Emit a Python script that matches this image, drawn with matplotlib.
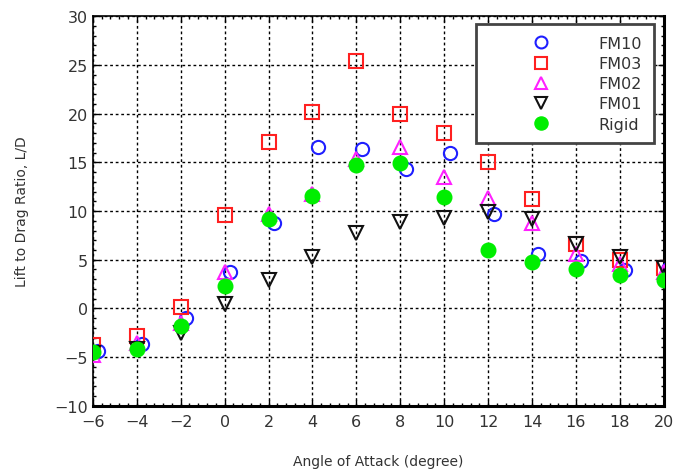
import numpy as np
import matplotlib
matplotlib.use('Agg')
import matplotlib.pyplot as plt
from matplotlib.ticker import MultipleLocator

# angle of attack (degree)
aoa = [-6, -4, -2, 0, 2, 4, 6, 8, 10, 12, 14, 16, 18, 20]
# FM10 points sit slightly to the right of the nominal angle
aoa_fm10 = [-5.75, -3.75, -1.75, 0.25, 2.25, 4.25, 6.25, 8.25, 10.25, 12.25, 14.25, 16.25, 18.25, 20.2]

ld_fm10 = [-4.4, -3.6, -1.0, 3.7, 8.8, 16.6, 16.4, 14.3, 16.0, 9.7, 5.6, 4.9, 3.9, 4.0]
ld_fm03 = [-3.7, -2.8, 0.2, 9.6, 17.1, 20.2, 25.4, 20.0, 18.0, 15.0, 11.2, 6.6, 5.0, 4.2]
ld_fm02 = [-4.8, -3.5, -1.5, 3.7, 9.7, 11.7, 15.3, 16.6, 13.5, 11.3, 8.8, 5.6, 4.6, 3.7]
ld_fm01 = [-4.6, -4.2, -2.5, 0.5, 2.9, 5.3, 7.7, 8.9, 9.3, 9.9, 9.2, 6.6, 5.3, 4.2]
ld_rigid = [-4.5, -4.2, -1.8, 2.3, 9.2, 11.5, 14.7, 14.9, 11.4, 6.0, 4.8, 4.0, 3.4, 2.9]

txt = '#333333'
fig = plt.figure(figsize=(6.78, 4.77), dpi=100)
ax = fig.add_axes([0.137, 0.147, 0.842, 0.817])

ms = 9.5
ax.plot(aoa_fm10, ld_fm10, 'o', ms=ms, mfc='none', mec='#1f1fff', mew=1.5, label='FM10', zorder=3)
ax.plot(aoa, ld_fm03, 's', ms=ms, mfc='none', mec='#ff2020', mew=1.5, label='FM03', zorder=3)
ax.plot(aoa, ld_fm02, '^', ms=ms, mfc='none', mec='#ff20ff', mew=1.5, label='FM02', zorder=3)
ax.plot(aoa, ld_fm01, 'v', ms=ms, mfc='none', mec='#111111', mew=1.5, label='FM01', zorder=3)
ax.plot(aoa, ld_rigid, 'o', ms=ms + 1, mfc='#00ee00', mec='#00ee00', mew=1, label='Rigid', zorder=4)

ax.set_xlim(-6, 20)
ax.set_ylim(-10, 30)
ax.xaxis.set_major_locator(MultipleLocator(2))
ax.xaxis.set_minor_locator(MultipleLocator(0.4))
ax.yaxis.set_major_locator(MultipleLocator(5))
ax.yaxis.set_minor_locator(MultipleLocator(1))
ax.tick_params(which='both', direction='in', top=True, right=True, colors='black', labelcolor=txt, labelsize=11.5)
ax.tick_params(which='major', length=4, width=1)
ax.tick_params(which='minor', length=2.5, width=1)
ax.tick_params(axis='x', pad=6)
ax.grid(True, which='major', color='black', linestyle=(0, (2, 2)), linewidth=1)
ax.set_axisbelow(True)

for side in ['left', 'top']:
    ax.spines[side].set_linewidth(1.2)
for side in ['right', 'bottom']:
    ax.spines[side].set_linewidth(2.2)

ax.set_xlabel('Angle of Attack (degree)', fontsize=10, color=txt, labelpad=18)
ax.set_ylabel('Lift to Drag Ratio, L/D', fontsize=10, color=txt, labelpad=18)

leg = ax.legend(loc='upper right', bbox_to_anchor=(0.991, 0.992), fontsize=11.5, frameon=True,
                fancybox=False, framealpha=1, edgecolor='#444444', handlelength=6.6,
                handletextpad=0.3, labelspacing=0.32, borderpad=0.75, borderaxespad=0.3,
                numpoints=1, markerscale=0.9)
leg.get_frame().set_linewidth(2)
for t in leg.get_texts():
    t.set_color(txt)

plt.savefig('out.png', dpi=100)
